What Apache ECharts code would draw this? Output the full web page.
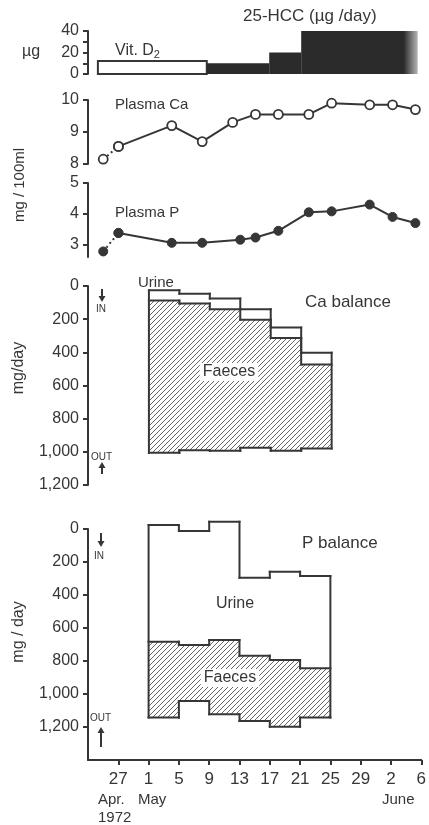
<!DOCTYPE html>
<html>
<head>
<meta charset="utf-8">
<script src="https://cdn.jsdelivr.net/npm/echarts@6/dist/echarts.min.js"></script>
<style>
html, body { margin: 0; background: #fff; }
#chart { width: 429px; height: 825px; }
</style>
</head>
<body>
<div id="chart"></div>
<script>
// x values are days counted from 27 April 1972
const dayTicks = [0, 4, 8, 12, 16, 20, 24, 28, 32, 36, 40];
const dayLabels = ['27', '1', '5', '9', '13', '17', '21', '25', '29', '2', '6'];

// dose blocks: [start day, end day, ug]
const vitD2 = [[-2.7, 11.6, 12]];
const hcc = [[11.6, 19.8, 10], [19.8, 24, 20], [24, 39.3, 40]];

const caDays = [-2, 0, 7, 11, 15, 18, 21, 25, 28, 33, 36, 39];
const plasmaCa = [8.15, 8.55, 9.2, 8.7, 9.3, 9.55, 9.55, 9.55, 9.9, 9.85, 9.85, 9.7];
const pDays = [-2, 0, 7, 11, 16, 18, 21, 25, 28, 33, 36, 39];
const plasmaP = [2.78, 3.38, 3.06, 3.06, 3.16, 3.23, 3.45, 4.05, 4.08, 4.3, 3.9, 3.7];

// four-day balance periods (mg/day, plotted downwards)
const periodStart = [4, 8, 12, 16, 20, 24];
const periodEnd = [8, 12, 16, 20, 24, 28];
const caTop = [26, 46, 76, 140, 251, 402];
const caFaecesTop = [88, 106, 140, 203, 313, 474];
const caIntake = [1006, 990, 994, 976, 994, 980];
const pTop = [-24, 12, -44, 295, 259, 285];
const pFaecesTop = [683, 703, 673, 768, 794, 844];
const pIntake = [1143, 1042, 1123, 1164, 1198, 1143];

const ink = '#363636';
const font = 'Liberation Sans';

function hatchCanvas() {
  const c = document.createElement('canvas');
  c.width = 5;
  c.height = 5;
  const g = c.getContext('2d');
  g.strokeStyle = '#555';
  g.lineWidth = 0.9;
  g.beginPath();
  g.moveTo(0, 5); g.lineTo(5, 0);
  g.moveTo(-1, 1); g.lineTo(1, -1);
  g.moveTo(4, 6); g.lineTo(6, 4);
  g.stroke();
  return c;
}
const hatch = hatchCanvas();

function thousands(v) {
  return v >= 1000 ? Math.floor(v / 1000) + ',' + String(v % 1000).padStart(3, '0') : String(v);
}

function balanceItem(top, mid, bot) {
  const last = top.length - 1;
  return function (params, api) {
    const i = params.dataIndex;
    const x0 = api.coord([api.value(0), 0])[0];
    const x1 = api.coord([api.value(1), 0])[0];
    const y = v => api.coord([api.value(0), v])[1];
    const ls = { stroke: ink, lineWidth: 2, lineCap: 'square', fill: null };
    const kids = [{
      type: 'rect',
      shape: { x: x0, y: y(mid[i]), width: x1 - x0, height: y(bot[i]) - y(mid[i]) },
      style: { fill: { image: hatch, repeat: 'repeat' } }
    }];
    [top, mid, bot].forEach(arr => {
      kids.push({ type: 'line', shape: { x1: x0, y1: y(arr[i]), x2: x1, y2: y(arr[i]) }, style: ls });
      if (i > 0) {
        kids.push({ type: 'line', shape: { x1: x0, y1: y(arr[i - 1]), x2: x0, y2: y(arr[i]) }, style: ls });
      }
    });
    if (i === 0) {
      kids.push({ type: 'line', shape: { x1: x0, y1: y(top[i]), x2: x0, y2: y(bot[i]) }, style: ls });
    }
    if (i === last) {
      kids.push({ type: 'line', shape: { x1: x1, y1: y(top[i]), x2: x1, y2: y(bot[i]) }, style: ls });
    }
    return { type: 'group', children: kids };
  };
}

function doseItem(open) {
  return function (params, api) {
    const p0 = api.coord([api.value(0), api.value(2)]);
    const p1 = api.coord([api.value(1), 0]);
    let fill = open ? '#fff' : '#2b2b2b';
    if (!open && params.dataIndex === hcc.length - 1) {
      fill = new echarts.graphic.LinearGradient(0, 0, 1, 0, [
        { offset: 0, color: '#2b2b2b' },
        { offset: 0.88, color: '#2b2b2b' },
        { offset: 1, color: 'rgba(43,43,43,0.35)' }
      ]);
    }
    return {
      type: 'rect',
      shape: { x: p0[0], y: p0[1], width: p1[0] - p0[0], height: p1[1] - p0[1] },
      style: { fill: fill, stroke: open ? ink : null, lineWidth: 2 }
    };
  };
}

const grids = [
  { left: 88, right: 6, top: 31, height: 43 },
  { left: 88, right: 6, top: 100, height: 64 },
  { left: 88, right: 6, top: 183, height: 74 },
  { left: 88, right: 6, top: 286, height: 199 },
  { left: 88, right: 6, top: 529, height: 231 }
];

const axisLine = { show: true, onZero: false, lineStyle: { color: ink, width: 2 } };
const axisTick = { show: true, length: 5, lineStyle: { color: ink, width: 2 } };
const labelStyle = { color: ink, fontFamily: font, fontSize: 16 };

const xAxes = grids.map((g, k) => ({
  type: 'value', gridIndex: k, min: -4, max: 40,
  show: k === 4,
  splitLine: { show: false },
  axisLine: axisLine,
  axisTick: Object.assign({}, axisTick, { customValues: dayTicks }),
  axisLabel: Object.assign({}, labelStyle, {
    fontSize: 17, customValues: dayTicks, margin: 11,
    formatter: v => dayLabels[dayTicks.indexOf(v)]
  })
}));

function yAxis(k, min, max, ticks, labels, inverse, fmt) {
  return {
    type: 'value', gridIndex: k, min: min, max: max, inverse: !!inverse,
    splitLine: { show: false },
    axisLine: axisLine,
    axisTick: Object.assign({}, axisTick, { customValues: ticks }),
    axisLabel: Object.assign({}, labelStyle, {
      customValues: labels, margin: 9, formatter: fmt || (v => String(v))
    })
  };
}

const yAxes = [
  yAxis(0, 0, 40, [0, 10, 20, 30, 40], [0, 20, 40]),
  yAxis(1, 8, 10, [8, 9, 10], [8, 9, 10]),
  yAxis(2, 2.6, 5, [3, 4, 5], [3, 4, 5]),
  yAxis(3, 0, 1200, [0, 200, 400, 600, 800, 1000, 1200], [0, 200, 400, 600, 800, 1000, 1200], true, thousands),
  yAxis(4, 0, 1400, [0, 200, 400, 600, 800, 1000, 1200], [0, 200, 400, 600, 800, 1000, 1200], true, thousands)
];

function plasmaSeries(k, days, vals, filled) {
  const pts = days.map((d, i) => [d, vals[i]]);
  const item = filled
    ? { color: ink, borderColor: ink, borderWidth: 1 }
    : { color: '#fff', borderColor: ink, borderWidth: 1.8 };
  return [
    {
      type: 'line', xAxisIndex: k, yAxisIndex: k, data: pts.slice(0, 2),
      symbol: 'circle', symbolSize: 9, itemStyle: item, z: 2,
      lineStyle: { color: ink, width: 2, type: [2, 3] }, silent: true
    },
    {
      type: 'line', xAxisIndex: k, yAxisIndex: k, data: pts.slice(1),
      symbol: 'circle', symbolSize: 9, itemStyle: item, z: 3,
      lineStyle: { color: ink, width: 2 }, silent: true
    }
  ];
}

function txt(x, y, text, size, extra) {
  return {
    type: 'text', x: x, y: y, z: 10,
    style: Object.assign({ text: text, fill: ink, font: size + 'px "' + font + '"' }, extra || {})
  };
}

function arrow(x, y0, y1) {
  const dir = y1 > y0 ? 1 : -1;
  return [
    { type: 'line', shape: { x1: x, y1: y0, x2: x, y2: y1 - dir * 3 }, style: { stroke: ink, lineWidth: 2 } },
    { type: 'polygon', shape: { points: [[x - 3.5, y1 - dir * 6], [x + 3.5, y1 - dir * 6], [x, y1]] }, style: { fill: ink } }
  ];
}

const graphics = [
  txt(243, 8, '25-HCC (\u00b5g /day)', 17),
  txt(22, 44, '\u00b5g', 16),
  {
    type: 'text', x: 115, y: 42, z: 10,
    style: {
      text: 'Vit. D{s|2}', fill: ink, font: '16px "' + font + '"',
      rich: { s: { fontSize: 11, fontFamily: font, fill: ink, padding: [7, 0, 0, 0] } }
    }
  },
  txt(115, 97, 'Plasma Ca', 15),
  txt(115, 205, 'Plasma P', 15),
  txt(20, 185, 'mg / 100ml', 15, { align: 'center', verticalAlign: 'middle' }),
  txt(138, 275, 'Urine', 15),
  txt(305, 294, 'Ca balance', 17),
  txt(229, 372, 'Faeces', 16, { align: 'center', verticalAlign: 'middle', backgroundColor: '#fff', padding: [1, 3] }),
  txt(19, 368, 'mg/day', 16, { align: 'center', verticalAlign: 'middle' }),
  txt(96, 304, 'IN', 10),
  txt(91, 452, 'OUT', 10),
  txt(302, 535, 'P balance', 17),
  txt(235, 604, 'Urine', 16, { align: 'center', verticalAlign: 'middle' }),
  txt(230, 678, 'Faeces', 16, { align: 'center', verticalAlign: 'middle', backgroundColor: '#fff', padding: [1, 3] }),
  txt(19, 632, 'mg / day', 16, { align: 'center', verticalAlign: 'middle' }),
  txt(94, 551, 'IN', 10),
  txt(90, 713, 'OUT', 10),
  txt(98, 792, 'Apr.', 15),
  txt(138, 792, 'May', 15),
  txt(98, 810, '1972', 15),
  txt(382, 792, 'June', 15)
].concat(arrow(102, 289, 302), arrow(102, 474, 462), arrow(101, 533, 547), arrow(101, 747, 727));

// rotate the vertical axis titles
graphics.forEach(g => {
  if (g.style && /^mg/.test(g.style.text)) g.rotation = Math.PI / 2;
});

const option = {
  animation: false,
  backgroundColor: '#fff',
  grid: grids,
  xAxis: xAxes,
  yAxis: yAxes,
  graphic: graphics,
  series: [
    {
      type: 'custom', xAxisIndex: 0, yAxisIndex: 0, silent: true,
      renderItem: doseItem(true), data: vitD2, encode: { x: [0, 1], y: 2 }
    },
    {
      type: 'custom', xAxisIndex: 0, yAxisIndex: 0, silent: true,
      renderItem: doseItem(false), data: hcc, encode: { x: [0, 1], y: 2 }
    },
    ...plasmaSeries(1, caDays, plasmaCa, false),
    ...plasmaSeries(2, pDays, plasmaP, true),
    {
      type: 'custom', xAxisIndex: 3, yAxisIndex: 3, silent: true,
      renderItem: balanceItem(caTop, caFaecesTop, caIntake),
      data: periodStart.map((s, i) => [s, periodEnd[i], caTop[i], caFaecesTop[i], caIntake[i]]),
      encode: { x: [0, 1], y: [2, 3, 4] }
    },
    {
      type: 'custom', xAxisIndex: 4, yAxisIndex: 4, silent: true,
      renderItem: balanceItem(pTop, pFaecesTop, pIntake),
      data: periodStart.map((s, i) => [s, periodEnd[i], pTop[i], pFaecesTop[i], pIntake[i]]),
      encode: { x: [0, 1], y: [2, 3, 4] }
    }
  ]
};

const chart = echarts.init(document.getElementById('chart'), null, { renderer: 'canvas' });
chart.setOption(option);
</script>
</body>
</html>
